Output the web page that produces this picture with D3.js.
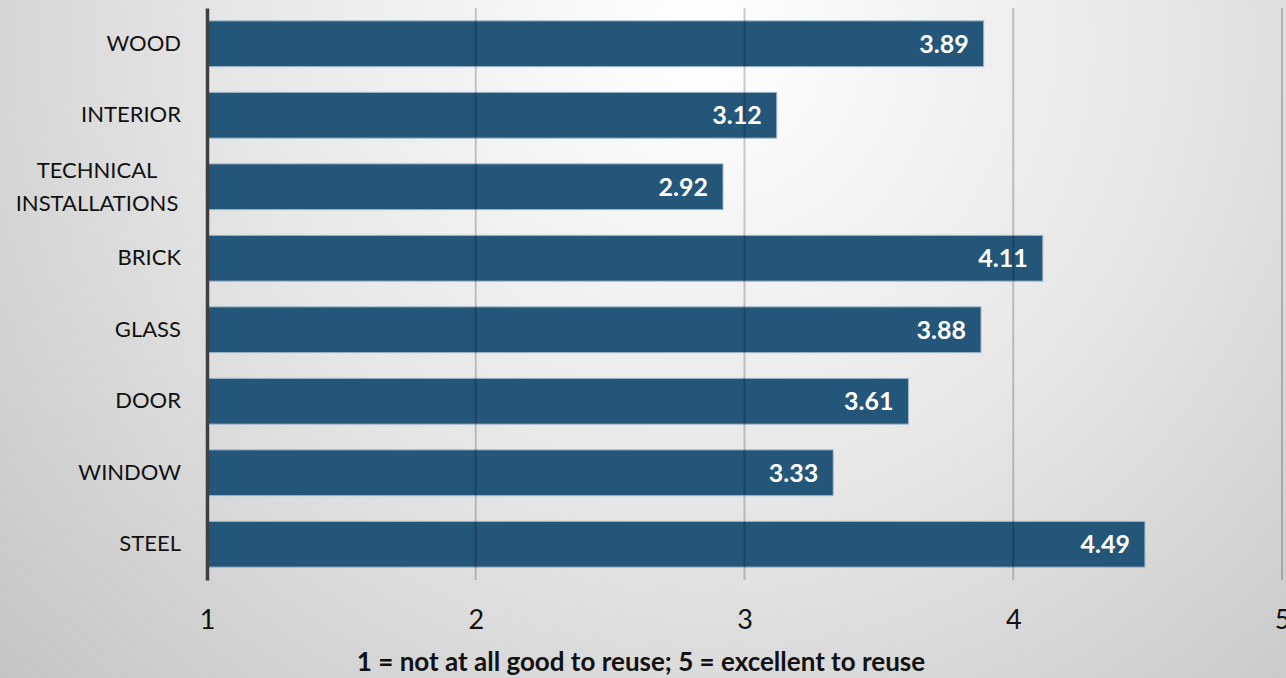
<!DOCTYPE html>
<html>
<head>
<meta charset="utf-8">
<script src="https://cdn.jsdelivr.net/npm/d3@7"></script>
<style>
  html, body { margin: 0; padding: 0; overflow: hidden; }
  body { width: 1286px; height: 678px; }
  svg { display: block; font-family: Lato, "Open Sans", sans-serif; }
</style>
</head>
<body>
<svg id="chart" width="1286" height="678"></svg>
<script>
// Reuse suitability ratings per material category (scale 1–5)
const categories = ["WOOD", "INTERIOR", "TECHNICAL INSTALLATIONS", "BRICK", "GLASS", "DOOR", "WINDOW", "STEEL"];
const scores = [3.89, 3.12, 2.92, 4.11, 3.88, 3.61, 3.33, 4.49];
const tickValues = [1, 2, 3, 4, 5];
const axisTitle = "1 = not at all good to reuse; 5 = excellent to reuse";

const W = 1286, H = 678;
const margin = { top: 8, right: 4, bottom: 98, left: 207 };

const svg = d3.select("#chart");

// Soft radial backdrop
const defs = svg.append("defs");
const grad = defs.append("radialGradient")
  .attr("id", "bg").attr("gradientUnits", "userSpaceOnUse")
  .attr("cx", 700).attr("cy", 40).attr("r", 1050);
grad.append("stop").attr("offset", "0").attr("stop-color", "#ffffff");
grad.append("stop").attr("offset", "0.45").attr("stop-color", "#e6e6e6");
grad.append("stop").attr("offset", "1").attr("stop-color", "#bdbdbd");
svg.append("rect").attr("width", W).attr("height", H).attr("fill", "url(#bg)");

const x = d3.scaleLinear().domain([1, 5]).range([margin.left, W - margin.right]);
const y = d3.scaleBand().domain(categories)
  .range([margin.top, H - margin.bottom])
  .paddingInner(0.36).paddingOuter(0.18);

// Bars
svg.append("g").selectAll("rect")
  .data(categories)
  .join("rect")
  .attr("x", x(1))
  .attr("y", d => y(d))
  .attr("width", (d, i) => x(scores[i]) - x(1))
  .attr("height", y.bandwidth())
  .attr("fill", "#24567a")
  .attr("stroke", "#9fb6c8")
  .attr("stroke-width", 1);

// Vertical gridlines (drawn over bars, translucent)
svg.append("g").selectAll("line")
  .data(tickValues.slice(1))
  .join("line")
  .attr("x1", d => x(d)).attr("x2", d => x(d))
  .attr("y1", margin.top).attr("y2", H - margin.bottom)
  .attr("stroke", "rgba(0,0,0,0.2)")
  .attr("stroke-width", 2);

// Value labels inside bar ends
svg.append("g").selectAll("text")
  .data(categories)
  .join("text")
  .attr("x", (d, i) => x(scores[i]) - 15)
  .attr("y", d => y(d) + y.bandwidth() / 2)
  .attr("dy", "0.36em")
  .attr("text-anchor", "end")
  .attr("fill", "#ffffff")
  .attr("font-weight", 700)
  .attr("font-size", 25)
  .text((d, i) => scores[i].toFixed(2));

// Bottom axis tick labels
const xAxis = svg.append("g")
  .attr("transform", `translate(0,${H - margin.bottom})`)
  .call(d3.axisBottom(x).tickValues(tickValues).tickFormat(d3.format("d")).tickSize(0).tickPadding(30));
xAxis.select(".domain").remove();
xAxis.selectAll("text")
  .attr("font-family", "Lato, 'Open Sans', sans-serif")
  .attr("font-size", 27)
  .attr("fill", "#111");

// Left axis with category names
const yAxis = svg.append("g")
  .attr("transform", `translate(${margin.left},0)`)
  .call(d3.axisLeft(y).tickSize(0).tickPadding(26));
yAxis.select(".domain")
  .attr("stroke", "#404040").attr("stroke-width", 3.5);
yAxis.selectAll("text")
  .attr("font-family", "Lato, 'Open Sans', sans-serif")
  .attr("font-size", 22)
  .attr("fill", "#111")
  .each(function (d) {
    const words = d.split(" ");
    if (words.length > 1) {
      const t = d3.select(this).text(null).attr("dy", null).attr("text-anchor", "middle");
      const cx = -26 - 84;
      words.forEach((w, k) => {
        t.append("tspan")
          .attr("x", cx)
          .attr("dy", k === 0 ? "-0.4em" : "1.5em")
          .text(w);
      });
    }
  });

// Axis title
svg.append("text")
  .attr("x", 641).attr("y", 671)
  .attr("text-anchor", "middle")
  .attr("font-weight", 700)
  .attr("font-size", 26)
  .attr("fill", "#111")
  .text(axisTitle);
</script>
</body>
</html>
